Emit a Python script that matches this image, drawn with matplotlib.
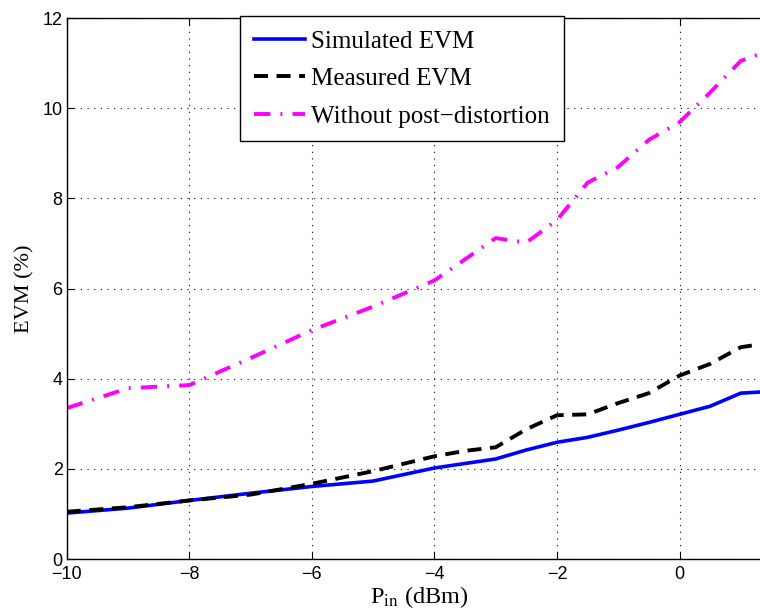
import matplotlib
matplotlib.use('Agg')
import matplotlib.pyplot as plt

# input power (dBm)
p_in = [-10, -9, -8, -7, -6, -5, -4, -3.5, -3, -2.5, -2, -1.5, -1, -0.5, 0, 0.5, 1, 1.5]

# EVM values (%)
evm_sim = [1.02, 1.13, 1.30, 1.46, 1.61, 1.73, 2.02, 2.12, 2.22, 2.42, 2.59, 2.70, 2.86, 3.03, 3.21, 3.39, 3.68, 3.72]
evm_meas = [1.05, 1.15, 1.30, 1.43, 1.67, 1.95, 2.28, 2.40, 2.48, 2.88, 3.19, 3.21, 3.46, 3.68, 4.07, 4.33, 4.70, 4.80]
evm_nopd = [3.35, 3.79, 3.86, 4.46, 5.08, 5.60, 6.18, 6.65, 7.12, 7.02, 7.52, 8.35, 8.70, 9.30, 9.69, 10.35, 11.05, 11.30]

plt.rcParams['mathtext.fontset'] = 'stix'

fig = plt.figure(figsize=(7.6, 6.13), dpi=100)
# the original is cropped on the right, so the axes run slightly past the figure edge
ax = fig.add_axes([0.088, 0.088, 0.927, 0.8825])

ax.plot(p_in, evm_sim, color='#0000ff', lw=2.6, label='Simulated EVM')
ax.plot(p_in, evm_meas, color='black', lw=2.8, dashes=(3.6, 2.2), label='Measured EVM')
ax.plot(p_in, evm_nopd, color='#ff00ff', lw=2.8, dashes=(4.2, 2.6, 0.5, 2.6),
        label='Without post\u2212distortion')

ax.set_xlim(-10, 1.5)
ax.set_ylim(0, 12)
xt = list(range(-10, 1, 2))
ax.set_xticks(xt)
ax.set_yticks(range(0, 13, 2))
ax.set_xticklabels(['\u2212%d' % abs(v) if v < 0 else '%d' % v for v in xt])

ax.grid(True, color='black', linestyle=(0, (1, 5)), lw=0.8)
ax.tick_params(direction='in', top=True, right=True, length=5, width=0.8,
               labelsize=13, pad=3)
ax.tick_params(axis='x', pad=5)
for lbl in ax.get_xticklabels() + ax.get_yticklabels():
    lbl.set_fontfamily('Liberation Sans')
for s in ax.spines.values():
    s.set_linewidth(1.0)

ax.set_xlabel(r'P$_{\mathrm{in}}$ (dBm)', fontfamily='Liberation Serif', fontsize=17.5, labelpad=1)
ax.set_ylabel('EVM (%)', fontfamily='Liberation Serif', fontsize=16, labelpad=6)

leg = ax.legend(loc='upper left', bbox_to_anchor=(0.246, 1.003), borderaxespad=0,
                prop={'family': 'Liberation Serif', 'size': 18}, handlelength=2.05,
                fancybox=False, framealpha=1, edgecolor='black', labelspacing=0.6,
                handletextpad=0.25, borderpad=0.55)
leg.get_frame().set_linewidth(1.0)

fig.savefig('out.png', dpi=100)
